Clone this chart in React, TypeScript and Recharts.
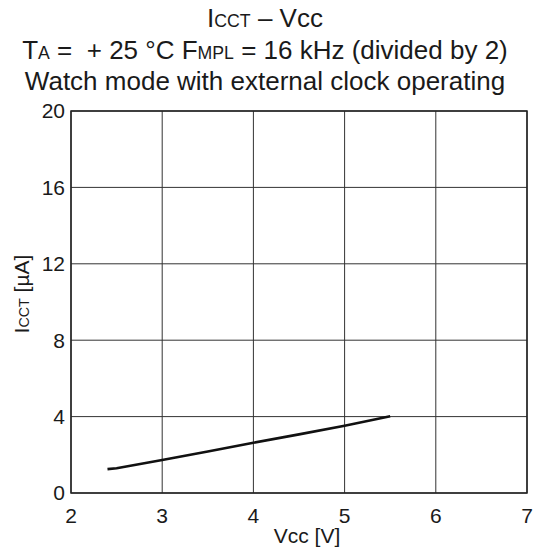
import React from "react";
import { LineChart, Line, XAxis, YAxis, CartesianGrid, ReferenceArea } from "recharts";

const vccValues = [2.4, 2.5, 3.0, 3.5, 4.0, 4.5, 5.0, 5.5];
const icctValues = [1.25, 1.3, 1.73, 2.17, 2.63, 3.07, 3.52, 4.02];
const xTicks = [2, 3, 4, 5, 6, 7];
const yTicks = [0, 4, 8, 12, 16, 20];

const data = vccValues.map((v, i) => ({ vcc: v, icct: icctValues[i] }));

const FONT = '"Liberation Sans", Arial, Helvetica, sans-serif';
const TEXT = "#1a1a1a";

const sub: React.CSSProperties = { fontSize: "0.68em" };

const titleLine = (top: number): React.CSSProperties => ({
  position: "absolute",
  left: 0,
  width: 530,
  top,
  textAlign: "center",
  fontSize: 26,
  lineHeight: 1,
  fontFamily: FONT,
  color: TEXT,
  whiteSpace: "pre",
});

export default function App() {
  return (
    <div
      style={{
        position: "absolute",
        left: 0,
        top: 0,
        width: 537,
        height: 549,
        background: "#fff",
        fontFamily: FONT,
      }}
    >
      <LineChart
        width={537}
        height={549}
        data={data}
        margin={{ top: 111, right: 10, bottom: 0, left: 0 }}
      >
        <CartesianGrid stroke="#333" strokeWidth={1} />
        <XAxis
          dataKey="vcc"
          type="number"
          domain={[2, 7]}
          ticks={xTicks}
          height={56}
          axisLine={false}
          tickLine={false}
          tickSize={0}
          tickMargin={15}
          tick={{ fontSize: 21, fill: TEXT, fontFamily: FONT }}
        />
        <YAxis
          dataKey="icct"
          type="number"
          domain={[0, 20]}
          ticks={yTicks}
          width={71}
          axisLine={false}
          tickLine={false}
          tickSize={0}
          tickMargin={6}
          tick={{ fontSize: 21, fill: TEXT, fontFamily: FONT }}
        />
        <ReferenceArea
          x1={2}
          x2={7}
          y1={0}
          y2={20}
          fill="none"
          fillOpacity={0}
          stroke="#222"
          strokeWidth={1.5}
          ifOverflow="extendDomain"
        />
        <Line
          type="linear"
          dataKey="icct"
          stroke="#111"
          strokeWidth={2.6}
          dot={false}
          isAnimationActive={false}
        />
      </LineChart>

      <div style={titleLine(5)}>
        I<span style={sub}>CCT</span> – Vcc
      </div>
      <div style={titleLine(37)}>
        T<span style={sub}>A</span>{" =  + 25 °C F"}<span style={sub}>MPL</span>{" = 16 kHz (divided by 2)"}
      </div>
      <div style={titleLine(68)}>Watch mode with external clock operating</div>

      <div
        style={{
          position: "absolute",
          left: 207,
          width: 200,
          top: 525,
          textAlign: "center",
          fontSize: 21,
          lineHeight: 1,
          color: TEXT,
        }}
      >
        Vcc [V]
      </div>
      <div
        style={{
          position: "absolute",
          left: 22 - 100,
          top: 294 - 11,
          width: 200,
          height: 22,
          textAlign: "center",
          fontSize: 21,
          lineHeight: "22px",
          color: TEXT,
          transform: "rotate(-90deg)",
          transformOrigin: "100px 11px",
          whiteSpace: "pre",
        }}
      >
        I<span style={sub}>CCT</span> [µA]
      </div>
    </div>
  );
}
